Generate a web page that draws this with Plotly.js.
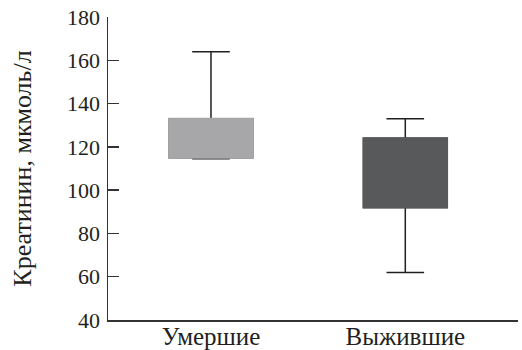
<!DOCTYPE html>
<html><head><meta charset="utf-8">
<script src="https://cdn.plot.ly/plotly-3.0.1.min.js"></script>
<style>body{margin:0;padding:0;background:#fff}#chart{width:522px;height:350px}</style>
</head><body><div id="chart"></div>
<script>
var categories = ["Умершие", "Выжившие"];
var lowerFence = [114.5, 62];
var q1 = [115, 92];
var median = [115, 92];
var q3 = [133, 124];
var upperFence = [164, 133];
var fillColors = ["#a7a7a9", "#58595b"];
var yTicks = [40, 60, 80, 100, 120, 140, 160, 180];

var FONT = "'Liberation Serif', 'DejaVu Serif', 'Times New Roman', serif";

var traces = [];
traces.push({
  type: "box", x: categories, q1: q1, median: median, q3: q3,
  lowerfence: lowerFence, upperfence: upperFence,
  width: 0.43, whiskerwidth: 0.45,
  line: {color: "#231f20", width: 1.5},
  fillcolor: "rgba(0,0,0,0)", boxpoints: false, hoverinfo: "skip",
  showlegend: false
});
for (var i = 0; i < categories.length; i++) {
  traces.push({
    type: "box", x: [categories[i]], q1: [q1[i]], median: [q1[i]], q3: [q3[i]],
    lowerfence: [q1[i]], upperfence: [q3[i]],
    width: 0.43, whiskerwidth: 0,
    line: {color: fillColors[i], width: 2},
    fillcolor: fillColors[i], boxpoints: false, hoverinfo: "skip",
    showlegend: false
  });
}

var layout = {
  width: 522, height: 350,
  margin: {l: 108, r: 4, t: 17, b: 30},
  paper_bgcolor: "#fff", plot_bgcolor: "#fff",
  boxmode: "overlay",
  font: {family: FONT, size: 22, color: "#231f20"},
  showlegend: false,
  xaxis: {
    type: "category", range: [-0.53, 1.58],
    showline: true, linecolor: "#333", linewidth: 1.5,
    ticks: "", showgrid: false, zeroline: false, automargin: false,
    ticklabelstandoff: -7,
    tickfont: {family: FONT, size: 25, color: "#231f20"}
  },
  yaxis: {
    range: [40, 180], tickvals: yTicks,
    showline: true, linecolor: "#333", linewidth: 1.5,
    ticks: "inside", ticklen: 11, tickwidth: 1.5, tickcolor: "#333",
    showgrid: false, zeroline: false, automargin: false,
    ticklabelstandoff: 2,
    tickfont: {family: FONT, size: 22, color: "#231f20"},
    title: {text: "Креатинин, мкмоль/л", font: {family: FONT, size: 26, color: "#231f20"}, standoff: 28}
  }
};
Plotly.newPlot("chart", traces, layout, {displayModeBar: false, staticPlot: true});
</script></body></html>
